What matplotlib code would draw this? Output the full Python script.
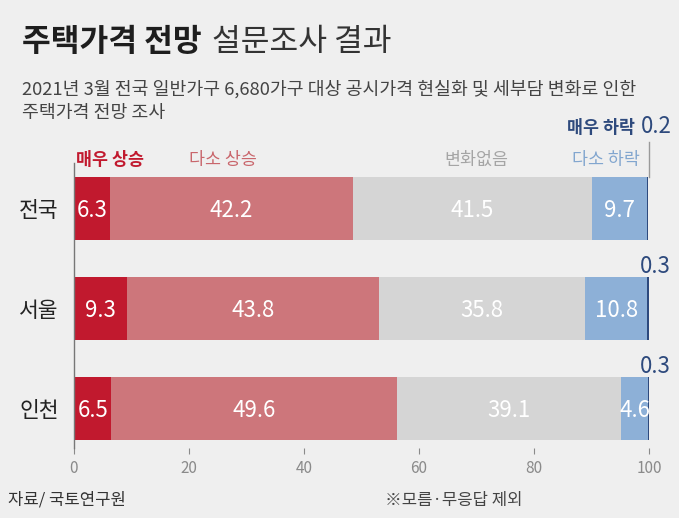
import matplotlib
matplotlib.use('Agg')
import matplotlib.pyplot as plt
import numpy as np

plt.rcParams['font.family'] = ['Noto Sans CJK KR', 'DejaVu Sans']

# data
regions = ['전국', '서울', '인천']
series_names = ['매우 상승', '다소 상승', '변화없음', '다소 하락', '매우 하락']
very_up = [6.3, 9.3, 6.5]
some_up = [42.2, 43.8, 49.6]
no_change = [41.5, 35.8, 39.1]
some_down = [9.7, 10.8, 4.6]
very_down = [0.2, 0.3, 0.3]
x_ticks = [0, 20, 40, 60, 80, 100]

colors = ['#c1192e', '#cd767b', '#d5d5d5', '#8db0d7', '#2e4a7d']
label_colors = ['#c1192e', '#c9666c', '#a5a5a5', '#82a6cf', '#2e4a7d']
bg = '#efefef'

W, H = 679, 518
fig = plt.figure(figsize=(W / 100, H / 100), dpi=100, facecolor=bg)


def px(x, y):
    return x / W, 1 - y / H


# axes placed in pixel terms
ax = fig.add_axes([74 / W, 1 - 448 / H, 575 / W, 285 / H], facecolor=bg)

values = [very_up, some_up, no_change, some_down, very_down]
y = np.arange(len(regions))
bar_h = 0.63
left = np.zeros(len(regions))
for vals, c in zip(values, colors):
    ax.barh(y, vals, left=left, height=bar_h, color=c, edgecolor='none')
    left += np.array(vals)

# value labels inside the bars (first four series)
left = np.zeros(len(regions))
for vals in values[:4]:
    for i, v in enumerate(vals):
        ax.text(left[i] + v / 2, y[i] + 0.02, '{}'.format(v), color='white',
                fontsize=16, fontweight='medium', ha='center', va='center')
    left += np.array(vals)

# 매우 하락 labels above bars
for i, v in enumerate(very_down):
    if i == 0:
        ax.text(104.0, y[i] - 0.755, '{}'.format(v), color=colors[4],
                fontsize=16, fontweight='medium', ha='right', va='baseline',
                clip_on=False)
        ax.text(97.6, y[i] - 0.755, series_names[4], color=colors[4],
                fontsize=12.5, fontweight='bold', ha='right', va='baseline',
                clip_on=False)
    else:
        ax.text(103.7, y[i] - 0.355, '{}'.format(v), color=colors[4],
                fontsize=16, fontweight='medium', ha='right', va='baseline',
                clip_on=False)

# leader line to top label
ax.plot([100, 100], [y[0] - 0.665, y[0] - bar_h / 2], color='#9a9a9a',
        lw=1, clip_on=False)

# series labels above first bar
ax.text(0.4, -0.485, series_names[0], color=label_colors[0], fontsize=12.5,
        fontweight='bold', ha='left', va='center')
ax.text(20.0, -0.485, series_names[1], color=label_colors[1], fontsize=12.5,
        ha='left', va='center')
ax.text(75.5, -0.485, series_names[2], color=label_colors[2], fontsize=12.5,
        ha='right', va='center')
ax.text(98.4, -0.485, series_names[3], color=label_colors[3], fontsize=12.5,
        ha='right', va='center')

ax.set_xlim(0, 100)
ax.set_ylim(2.39, -0.455)
ax.set_yticks(y)
ax.set_yticklabels(regions, fontsize=15.5, color='#222222')
ax.set_xticks(x_ticks)
ax.set_xticklabels([str(t) for t in x_ticks], fontsize=11, color='#8a8a8a')
ax.tick_params(axis='y', length=0, pad=11)
ax.tick_params(axis='x', length=4.5, width=0.8, color='#8a8a8a', pad=4)
for s in ['top', 'right', 'bottom']:
    ax.spines[s].set_visible(False)
ax.spines['left'].set_color('#777777')
ax.spines['left'].set_linewidth(1)

# title in two weights
t1 = fig.text(*px(22, 42), '주택가격 전망', fontsize=22.5, fontweight='bold',
              color='#1e1e1e', ha='left', va='center')
fig.canvas.draw()
bb = t1.get_window_extent(fig.canvas.get_renderer())
fig.text(bb.x1 / W + 10 / W, 1 - 42 / H, '설문조사 결과', fontsize=22.5,
         fontweight='light', color='#333333', ha='left', va='center')

fig.text(*px(22, 89), '2021년 3월 전국 일반가구 6,680가구 대상 공시가격 현실화 및 세부담 변화로 인한',
         fontsize=13.2, color='#444444', ha='left', va='center')
fig.text(*px(22, 113), '주택가격 전망 조사', fontsize=13.2, color='#444444',
         ha='left', va='center')

fig.text(*px(8, 500), '자료/ 국토연구원', fontsize=12, color='#333333',
         ha='left', va='center')
fig.text(*px(385, 500), '※모름·무응답 제외', fontsize=12, color='#444444',
         ha='left', va='center')

plt.savefig('out.png', dpi=100, facecolor=bg)
